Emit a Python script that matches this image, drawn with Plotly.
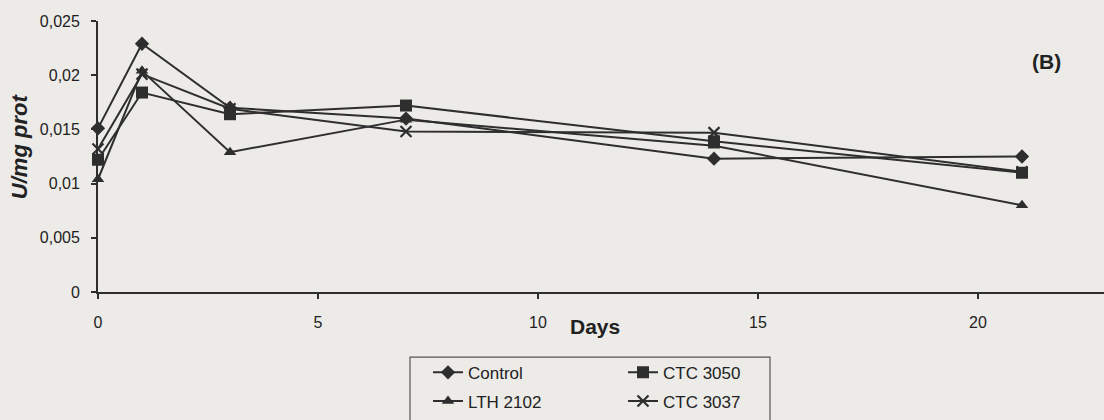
import plotly.graph_objects as go

days = [0, 1, 3, 7, 14, 21]
control = [0.0151, 0.0229, 0.0170, 0.0160, 0.0123, 0.0125]
ctc3050 = [0.0122, 0.0184, 0.0164, 0.0172, 0.0139, 0.0110]
lth2102 = [0.0104, 0.0204, 0.0129, 0.0159, 0.0135, 0.0080]
ctc3037 = [0.0132, 0.0201, 0.0169, 0.0148, 0.0147, 0.0111]

x_ticks = [0, 5, 10, 15, 20]
y_ticks = [0, 0.005, 0.01, 0.015, 0.02, 0.025]
y_tick_labels = ["0", "0,005", "0,01", "0,015", "0,02", "0,025"]

INK = "#2e2e2e"
BG = "#ecebe8"

series = [
    ("Control", control, "diamond", 11, "legend"),
    ("CTC 3050", ctc3050, "square", 12, "legend"),
    ("LTH 2102", lth2102, "triangle-up", 11, "legend2"),
    ("CTC 3037", ctc3037, "x-thin", 11, "legend2"),
]

fig = go.Figure()
for name, vals, sym, size, leg in series:
    fig.add_trace(go.Scatter(
        x=days, y=vals, name=name, mode="lines+markers",
        line=dict(color=INK, width=2),
        marker=dict(symbol=sym, size=size, color=INK,
                    line=dict(color=INK, width=2.2 if sym == "x-thin" else 0)),
        cliponaxis=False, legend=leg,
    ))

L, T, B = 98, 21, 124
W, H = 1104, 420
pw, ph = W - L, H - T - B

def px_x(p):
    return (p - L) / pw

def px_y(p):
    return (H - B - p) / ph

fig.update_layout(
    width=W, height=H,
    margin=dict(l=L, r=0, t=T, b=B),
    paper_bgcolor=BG, plot_bgcolor=BG,
    font=dict(family="Liberation Sans, Arial, sans-serif", color="#222222", size=16),
    xaxis=dict(range=[0, pw / 44.0], tickvals=x_ticks, showgrid=False, zeroline=False,
               showline=True, linecolor=INK, linewidth=1.8, ticks="outside",
               ticklen=5, tickcolor=INK, tickwidth=1.6, ticklabelstandoff=10,
               tickfont=dict(size=16)),
    yaxis=dict(range=[0, 0.025], tickvals=y_ticks, ticktext=y_tick_labels,
               showgrid=False, zeroline=False, showline=True, linecolor=INK,
               linewidth=1.8, ticks="outside", ticklen=5, tickcolor=INK,
               tickwidth=1.6, ticklabelstandoff=8, tickfont=dict(size=16)),
    legend=dict(orientation="h", x=px_x(428), xanchor="left", y=px_y(378), yanchor="middle",
                entrywidth=150, bgcolor="rgba(0,0,0,0)", font=dict(size=17)),
    legend2=dict(orientation="h", x=px_x(428), xanchor="left", y=px_y(407), yanchor="middle",
                 entrywidth=150, bgcolor="rgba(0,0,0,0)", font=dict(size=17)),
    showlegend=True,
)

fig.add_shape(type="rect", xref="paper", yref="paper",
              x0=px_x(410), x1=px_x(770), y0=px_y(362), y1=px_y(440),
              line=dict(color="#555555", width=1.2), fillcolor="rgba(0,0,0,0)")

fig.add_annotation(text="<b>Days</b>", xref="paper", yref="paper",
                   x=px_x(595), y=px_y(331), showarrow=False,
                   xanchor="center", yanchor="middle", font=dict(size=21, color="#222222"))
fig.add_annotation(text="<b><i>U/mg prot</i></b>", xref="paper", yref="paper",
                   x=px_x(19), y=px_y(148), showarrow=False, textangle=-90,
                   xanchor="center", yanchor="middle", font=dict(size=22, color="#222222"))
fig.add_annotation(text="<b>(B)</b>", xref="paper", yref="paper",
                   x=px_x(1046), y=px_y(62), showarrow=False,
                   xanchor="center", yanchor="middle", font=dict(size=21, color="#222222"))

fig.write_html("out.html")
